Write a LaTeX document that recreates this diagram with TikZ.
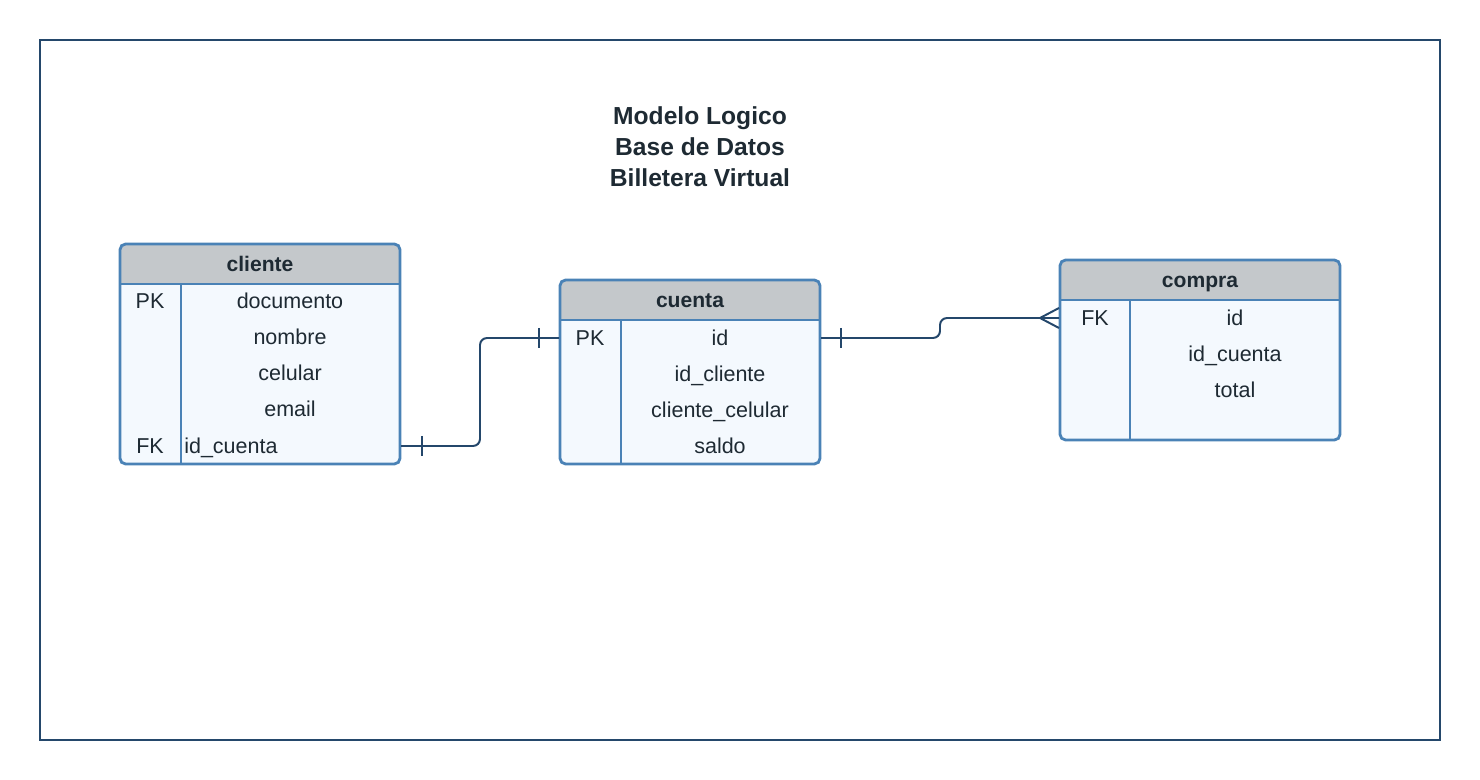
\documentclass[tikz,border=0pt]{standalone}
\usepackage{fontspec}
\setmainfont{Liberation Sans}

\definecolor{framenavy}{HTML}{24476B}
\definecolor{tableblue}{HTML}{4A82B6}
\definecolor{headgray}{HTML}{C4C8CB}
\definecolor{bodyblue}{HTML}{F4F9FE}
\definecolor{inkdark}{HTML}{1E2A33}

\tikzset{
  tablebody/.style={fill=bodyblue, rounded corners=4},
  tableline/.style={draw=tableblue, line width=2pt},
  headtext/.style={font=\fontsize{15}{18}\selectfont\bfseries},
  relline/.style={draw=framenavy, line width=1.4pt}
}

\begin{document}
\begin{tikzpicture}[x=0.025cm, y=-0.025cm, font=\fontsize{15.3}{18}\selectfont,
  every node/.style={text=inkdark, inner sep=0pt}]
\useasboundingbox (0,0) rectangle (1480,780);
\draw [framenavy, line width=1.4pt] (40,40) rectangle (1440,740);
\node [font=\fontsize{17.5}{22}\selectfont\bfseries, align=center] (title) at (700,147)
  {Modelo Logico\\Base de Datos\\Billetera Virtual};

\begin{scope}[every node/.append style={text height=13pt, text depth=2.2pt}]
% cliente
\path [tablebody] (120,244) rectangle (400,464);
\fill [headgray] (120,284) [rounded corners=4] -- (120,244) -- (400,244) [sharp corners] -- (400,284) -- cycle;
\draw [tableline, rounded corners=4] (120,244) rectangle (400,464);
\draw [tableline] (120,284) -- (400,284) (181,284) -- (181,464);
\node [headtext] (cliente) at (260,264) {cliente};
\node (cliente-pk) at (150,301) {PK};
\node (cliente-fk) at (150,446) {FK};
\node (cliente-1) at (290,301) {documento};
\node (cliente-2) at (290,337) {nombre};
\node (cliente-3) at (290,373) {celular};
\node (cliente-4) at (290,409) {email};
\node [anchor=west] (cliente-5) at (184,446) {id\_cuenta};
\coordinate (cliente-e) at (401,446);

% cuenta
\path [tablebody] (560,280) rectangle (820,464);
\fill [headgray] (560,320) [rounded corners=4] -- (560,280) -- (820,280) [sharp corners] -- (820,320) -- cycle;
\draw [tableline, rounded corners=4] (560,280) rectangle (820,464);
\draw [tableline] (560,320) -- (820,320) (621,320) -- (621,464);
\node [headtext] (cuenta) at (690,300) {cuenta};
\node (cuenta-pk) at (590,338) {PK};
\node (cuenta-1) at (720,338) {id};
\node (cuenta-2) at (720,374) {id\_cliente};
\node (cuenta-3) at (720,410) {cliente\_celular};
\node (cuenta-4) at (720,446) {saldo};
\coordinate (cuenta-w) at (559,338);
\coordinate (cuenta-e) at (821,338);

% compra
\path [tablebody] (1060,260) rectangle (1340,440);
\fill [headgray] (1060,300) [rounded corners=4] -- (1060,260) -- (1340,260) [sharp corners] -- (1340,300) -- cycle;
\draw [tableline, rounded corners=4] (1060,260) rectangle (1340,440);
\draw [tableline] (1060,300) -- (1340,300) (1130,300) -- (1130,440);
\node [headtext] (compra) at (1200,280) {compra};
\node (compra-fk) at (1095,318) {FK};
\node (compra-1) at (1235,318) {id};
\node (compra-2) at (1235,354) {id\_cuenta};
\node (compra-3) at (1235,390) {total};
\coordinate (compra-w) at (1059,318);
\end{scope}

% relaciones
\draw [relline, rounded corners=5] (cliente-e) -- ++(79,0) |- (cuenta-w);
\draw [relline] (cliente-e) ++(21,-10) -- ++(0,20);
\draw [relline] (cuenta-w) ++(-20,-10) -- ++(0,20);
\draw [relline, rounded corners=5] (cuenta-e) -- ++(119,0) |- (compra-w);
\draw [relline] (cuenta-e) ++(20,-10) -- ++(0,20);
\draw [relline] (compra-w) ++(-19,0) -- ++(19,-10);
\draw [relline] (compra-w) ++(-19,0) -- ++(19,10);
\end{tikzpicture}
\end{document}
